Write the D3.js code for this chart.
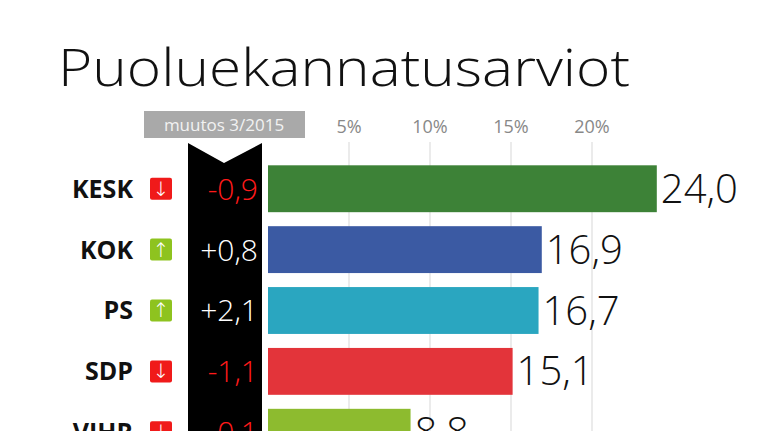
<!DOCTYPE html>
<html><head><meta charset="utf-8">
<script src="https://cdn.jsdelivr.net/npm/d3@7"></script>
<style>body{margin:0;background:#fff}</style></head>
<body><div id="chart"></div>
<script>
const parties = ["KESK", "KOK", "PS", "SDP", "VIHR"];
const support = [24.0, 16.9, 16.7, 15.1, 8.8];
const changes = [-0.9, 0.8, 2.1, -1.1, -0.1];
const colors = ["#3d8237", "#3b5aa3", "#2aa6c0", "#e3343a", "#8dbb2f"];
const ticks = [5, 10, 15, 20];

const fmt = v => v.toFixed(1).replace(".", ",");
const fmtChange = v => (v > 0 ? "+" : "-") + Math.abs(v).toFixed(1).replace(".", ",");

const svg = d3.select("#chart").append("svg").attr("width", 767).attr("height", 431);
const font = "'Open Sans', sans-serif";

const x = d3.scaleLinear().domain([0, 20]).range([268, 592]);
const y = d3.scaleBand().domain(parties).range([158, 463]).paddingInner(0.23).paddingOuter(0.12);

svg.append("text").attr("x", 58).attr("y", 86).attr("font-family", font)
  .attr("font-weight", 300).attr("font-size", 52).attr("fill", "#111")
  .attr("textLength", 572).attr("lengthAdjust", "spacingAndGlyphs").text("Puoluekannatusarviot");

// gridlines + tick labels
svg.selectAll(".grid").data(ticks).enter().append("line")
  .attr("x1", d => x(d)).attr("x2", d => x(d)).attr("y1", 142).attr("y2", 431)
  .attr("stroke", "#e4e4e4").attr("stroke-width", 1.5);
svg.selectAll(".tick").data(ticks).enter().append("text")
  .attr("x", d => x(d)).attr("y", 133).attr("text-anchor", "middle")
  .attr("font-family", font).attr("font-size", 18).attr("fill", "#888").text(d => d + "%");

// black change column with notch
svg.append("path").attr("d", "M188,143 L224,163 L262,143 L262,431 L188,431 Z").attr("fill", "#000");
svg.append("rect").attr("x", 144).attr("y", 111).attr("width", 161).attr("height", 27).attr("fill", "#a9a9a9");
svg.append("text").attr("x", 224).attr("y", 131).attr("text-anchor", "middle")
  .attr("font-family", font).attr("font-size", 17).attr("fill", "#f2f2f2").text("muutos 3/2015");

const rows = svg.selectAll(".row").data(parties).enter().append("g")
  .attr("transform", d => `translate(0,${y(d)})`);
const h = y.bandwidth();

rows.append("rect").attr("x", x(0)).attr("y", 0).attr("height", h)
  .attr("width", (d, i) => x(support[i]) - x(0)).attr("fill", (d, i) => colors[i]);

rows.append("text").attr("x", (d, i) => x(support[i]) + 4).attr("y", h / 2 + 14)
  .attr("font-family", font).attr("font-weight", 300).attr("font-size", 40).attr("fill", "#111")
  .text((d, i) => fmt(support[i]));

rows.append("text").attr("x", 133).attr("y", h / 2 + 9).attr("text-anchor", "end")
  .attr("font-family", font).attr("font-weight", 700).attr("font-size", 25).attr("fill", "#111").text(d => d);

rows.append("rect").attr("x", 150).attr("y", h / 2 - 11).attr("width", 22).attr("height", 22).attr("rx", 2)
  .attr("fill", (d, i) => changes[i] < 0 ? "#f01a1a" : "#8ec31f");
rows.append("text").attr("x", 161).attr("y", h / 2 + 7).attr("text-anchor", "middle")
  .attr("font-family", "DejaVu Sans").attr("font-weight", 300).attr("font-size", 20).attr("fill", "#fff")
  .text((d, i) => changes[i] < 0 ? "↓" : "↑");

rows.append("text").attr("x", 258).attr("y", h / 2 + 11).attr("text-anchor", "end")
  .attr("font-family", font).attr("font-weight", 300).attr("font-size", 30)
  .attr("fill", (d, i) => changes[i] < 0 ? "#ff1a1a" : "#fff").text((d, i) => fmtChange(changes[i]));
</script></body></html>
